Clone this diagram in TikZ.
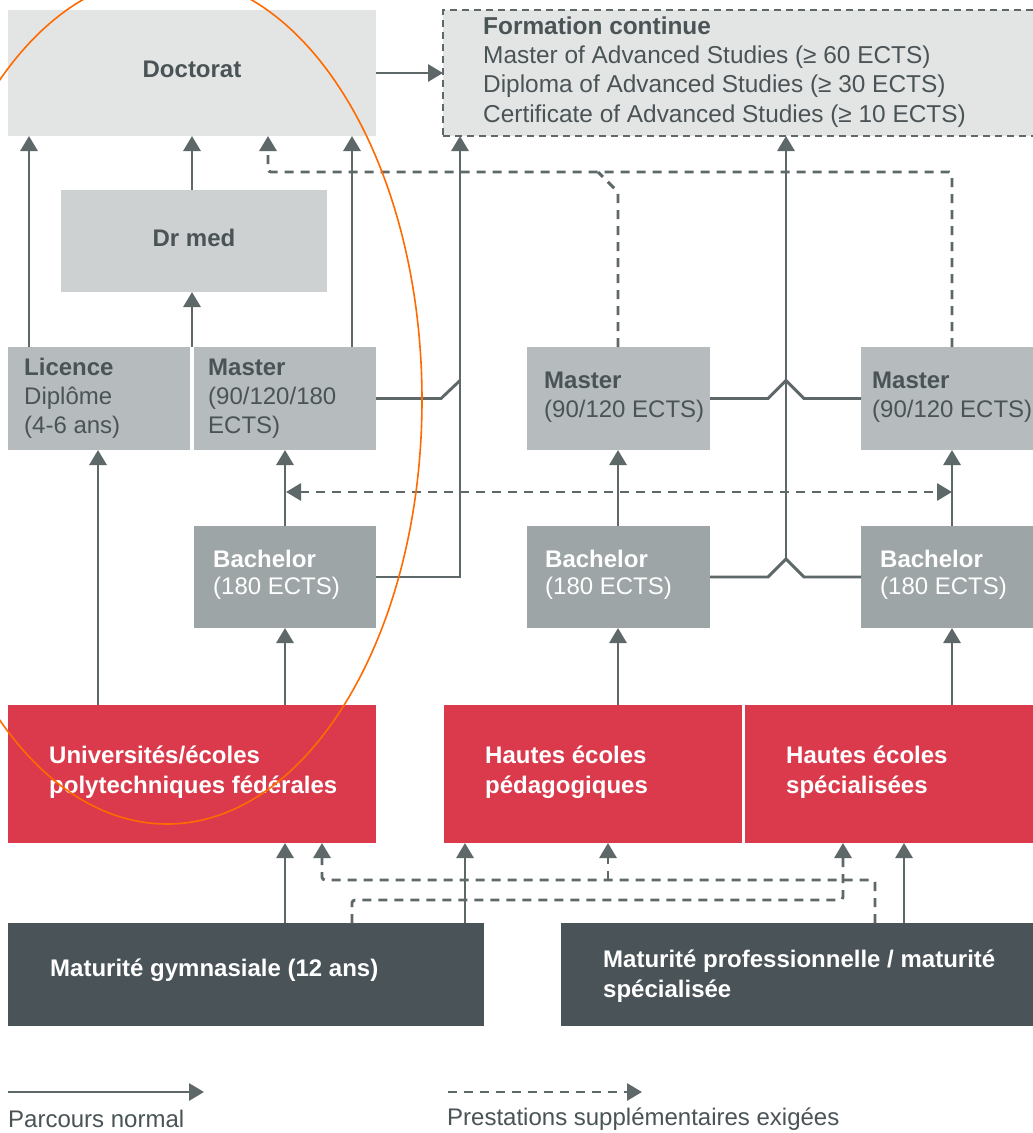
\documentclass[tikz,border=0pt]{standalone}
\usepackage{fontspec}
\setmainfont{Liberation Sans}
\usetikzlibrary{arrows.meta}
\definecolor{cdoc}{HTML}{E3E5E4}
\definecolor{cdrm}{HTML}{CDD1D2}
\definecolor{cmas}{HTML}{B6BCBE}
\definecolor{cbac}{HTML}{9EA5A7}
\definecolor{cred}{HTML}{DA3A4B}
\definecolor{cdark}{HTML}{4A5357}
\definecolor{ctxt}{HTML}{4A5356}
\definecolor{cline}{HTML}{5E6869}
\definecolor{corange}{HTML}{FF6A00}
\begin{document}
\begin{tikzpicture}[x=1pt,y=-1pt,
  font=\fontsize{24}{29}\selectfont,
  box/.style={rectangle, inner sep=0pt, outer sep=0pt, anchor=north west, text=ctxt},
  txt/.style={anchor=west, align=left, inner sep=0pt, text=ctxt},
  wtxt/.style={txt, text=white},
  conn/.style={draw=cline, line width=2.9pt},
  tip/.style={-{Triangle[width=17pt,length=15pt]}},
  arr/.style={conn, tip},
  dsh/.style={conn, dash pattern=on 9pt off 7pt, rounded corners=3pt},
  darr/.style={dsh, tip},
]
\useasboundingbox (0,0) rectangle (1033,1133);
\fill[white] (0,0) rectangle (1033,1133);

% helper x/y coordinates
\coordinate (X29) at (29,0);
\coordinate (X98) at (98,0);
\coordinate (X192) at (192,0);
\coordinate (X268) at (268,0);
\coordinate (X285) at (285,0);
\coordinate (X322) at (322,0);
\coordinate (X352) at (352,0);
\coordinate (X460) at (460,0);
\coordinate (X465) at (465,0);
\coordinate (X598) at (598,0);
\coordinate (X608) at (608,0);
\coordinate (X618) at (618,0);
\coordinate (X786) at (786,0);
\coordinate (X843) at (843,0);
\coordinate (X875) at (875,0);
\coordinate (X904) at (904,0);
\coordinate (X952) at (952,0);
\coordinate (Y172) at (0,172);
\coordinate (Y192) at (0,192);
\coordinate (Y558) at (0,559);
\coordinate (Y880) at (0,880);
\coordinate (Y900) at (0,900);

% boxes
\node[box, fill=cdoc, minimum width=368pt, minimum height=126pt] (doc) at (8,10) {};
\node[text=ctxt, inner sep=0pt] (doct) at ([yshift=4pt]doc.center) {\textbf{Doctorat}};
\node[box, fill=cdoc, draw=cline, line width=2.4pt, dash pattern=on 7pt off 5pt, minimum width=610pt, minimum height=126pt] (fc) at (443,10) {};
\node[txt, font=\fontsize{24.4}{29.3}\selectfont] (fct) at (483,72) {\textbf{Formation continue}\\Master of Advanced Studies (≥ 60 ECTS)\\Diploma of Advanced Studies (≥ 30 ECTS)\\Certificate of Advanced Studies (≥ 10 ECTS)};

\node[box, fill=cdrm, minimum width=266pt, minimum height=102pt] (drm) at (61,190) {};
\node[text=ctxt, inner sep=0pt] (drmt) at ([yshift=3pt]drm.center) {\textbf{Dr med}};

\node[box, fill=cmas, minimum width=182pt, minimum height=103pt] (lic) at (8,347) {};
\node[txt] (lict) at (24,398.5) {\textbf{Licence}\\Diplôme\\(4-6 ans)};
\node[box, fill=cmas, minimum width=182pt, minimum height=103pt] (m1) at (194,347) {};
\node[txt] (m1t) at (208,398.5) {\textbf{Master}\\(90/120/180\\ECTS)};
\node[box, fill=cmas, minimum width=183pt, minimum height=103pt] (m2) at (527,347) {};
\node[txt] (m2t) at (544,397) {\textbf{Master}\\(90/120 ECTS)};
\node[box, fill=cmas, minimum width=190pt, minimum height=103pt] (m3) at (861,347) {};
\node[txt] (m3t) at (872,397) {\textbf{Master}\\(90/120 ECTS)};

\node[box, fill=cbac, minimum width=182pt, minimum height=102pt] (b1) at (194,526) {};
\node[wtxt, font=\fontsize{24}{27}\selectfont] (b1t) at (213,575) {\textbf{Bachelor}\\(180 ECTS)};
\node[box, fill=cbac, minimum width=183pt, minimum height=102pt] (b2) at (527,526) {};
\node[wtxt, font=\fontsize{24}{27}\selectfont] (b2t) at (545,575) {\textbf{Bachelor}\\(180 ECTS)};
\node[box, fill=cbac, minimum width=190pt, minimum height=102pt] (b3) at (861,526) {};
\node[wtxt, font=\fontsize{24}{27}\selectfont] (b3t) at (880,575) {\textbf{Bachelor}\\(180 ECTS)};

\node[box, fill=cred, minimum width=368pt, minimum height=138pt] (uni) at (8,705) {};
\node[wtxt, font=\fontsize{24}{30}\selectfont\bfseries] (unit) at (49,772) {Universités/écoles\\polytechniques fédérales};
\node[box, fill=cred, minimum width=298pt, minimum height=138pt] (hep) at (444,705) {};
\node[wtxt, font=\fontsize{24}{30}\selectfont\bfseries] (hept) at (485,772) {Hautes écoles\\pédagogiques};
\node[box, fill=cred, minimum width=300pt, minimum height=138pt] (hes) at (745,705) {};
\node[wtxt, font=\fontsize{24}{30}\selectfont\bfseries] (hest) at (786,772) {Hautes écoles\\spécialisées};

\node[box, fill=cdark, minimum width=476pt, minimum height=103pt] (mg) at (8,923) {};
\node[wtxt, font=\fontsize{24}{30}\selectfont\bfseries] (mgt) at (50,970) {Maturité gymnasiale (12 ans)};
\node[box, fill=cdark, minimum width=490pt, minimum height=103pt] (mp) at (561,923) {};
\node[wtxt, font=\fontsize{24}{30}\selectfont\bfseries] (mpt) at (603,976) {Maturité professionnelle / maturité\\spécialisée};

% solid connectors
\draw[arr] (doc.east) -- (fc.west);
\draw[arr] (lic.north -| X29) -- (doc.south -| X29);
\draw[arr] (drm.north -| X192) -- (doc.south -| X192);
\draw[arr] (m1.north -| X192) -- (drm.south -| X192);
\draw[arr] (m1.north -| X352) -- (doc.south -| X352);
\draw[arr] (b1.east) -- (b1.east -| X460) -- (fc.south -| X460);
\draw[conn] (m1.east) -- ++(65,0) -- ++(19,-18);
\draw[arr] (X786 |- Y558) -- (fc.south -| X786);
\draw[conn] (b2.east) -- ++(58,0) -- ++(18,-18);
\draw[conn] (b3.west) -- ++(-57,0) -- ++(-18,-18);
\draw[conn] (m2.east) -- ++(58,0) -- ++(18,-18);
\draw[conn] (m3.west) -- ++(-57,0) -- ++(-18,-18);
\draw[arr] (b1.north -| X285) -- (m1.south -| X285);
\draw[arr] (b2.north -| X618) -- (m2.south -| X618);
\draw[arr] (b3.north -| X952) -- (m3.south -| X952);
\draw[arr] (uni.north -| X98) -- (lic.south -| X98);
\draw[arr] (uni.north -| X285) -- (b1.south -| X285);
\draw[arr] (hep.north -| X618) -- (b2.south -| X618);
\draw[arr] (hes.north -| X952) -- (b3.south -| X952);
\draw[arr] (mg.north -| X285) -- (uni.south -| X285);
\draw[arr] (mg.north -| X465) -- (hep.south -| X465);
\draw[arr] (mp.north -| X904) -- (hes.south -| X904);

% dashed connectors
\coordinate (dl) at (286,492);
\coordinate (dr) at (952,492);
\draw[dsh, {Triangle[width=17pt,length=15pt]}-{Triangle[width=17pt,length=15pt]}] (dl) -- (dr);
\draw[darr] (m3.north -| X952) -- (X952 |- Y172) -- (X268 |- Y172) -- (doc.south -| X268);
\draw[dsh] (m2.north -| X618) -- (X618 |- Y192) -- (X598 |- Y172);
\draw[darr] (mp.north -| X875) -- (X875 |- Y880) -- (X322 |- Y880) -- (uni.south -| X322);
\draw[darr] (X608 |- Y880) -- (hep.south -| X608);
\draw[darr] (mg.north -| X352) -- (X352 |- Y900) -- (X843 |- Y900) -- (hes.south -| X843);

% legend
\coordinate (la) at (8,1092);
\coordinate (lb) at (204,1092);
\draw[arr] (la) -- (lb);
\node[txt] (lat) at (8,1119) {Parcours normal};
\coordinate (lc) at (448,1092);
\coordinate (ld) at (642,1092);
\draw[darr, rounded corners=0pt] (lc) -- (ld);
\node[txt] (lct) at (447,1119) {Prestations supplémentaires exigées};

% orange annotation ellipse
\draw[corange, line width=1.6pt] (167,400) ellipse [x radius=255, y radius=424];
\end{tikzpicture}
\end{document}
